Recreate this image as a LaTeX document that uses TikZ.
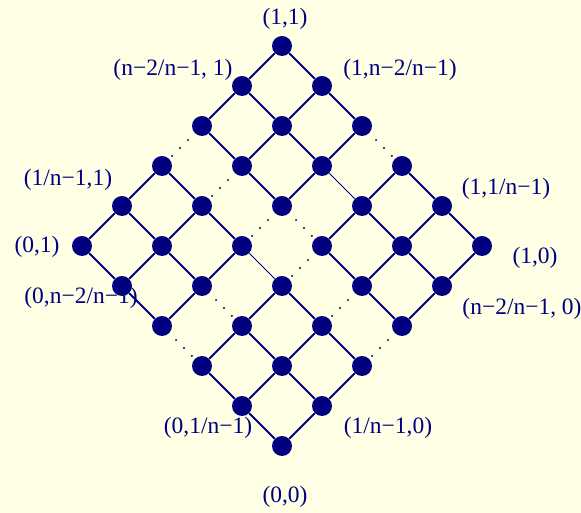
\documentclass[tikz,border=0pt]{standalone}
\usepackage{fontspec}
\setmainfont{Liberation Serif}
\definecolor{dotblue}{RGB}{0,0,128}
\definecolor{paper}{RGB}{255,255,230}

\begin{document}
\begin{tikzpicture}[
  dot/.style={circle, fill=dotblue, inner sep=0pt, minimum size=0.5cm},
  edge/.style={draw=dotblue, line width=1.4pt},
  gap/.style={draw=dotblue, line width=1.5pt, line cap=round, dash pattern=on 0pt off 0.28cm, shorten <=0.1cm, shorten >=0.1cm},
  thinedge/.style={draw=dotblue, line width=0.6pt},
  lbl/.style={text=dotblue, font=\fontsize{16.7}{20}\selectfont, inner sep=0pt}
]
\fill[paper] (-7.05,-1.675) rectangle (7.475,11.15);
\useasboundingbox (-7.05,-1.675) rectangle (7.475,11.15);

% lattice points
\foreach \i in {0,...,5}
  \foreach \j in {0,...,5}
    \node[dot] (p\i\j) at ({\i-\j},{\i+\j}) {};

% edges, the middle ones left open
\foreach \j in {0,...,5} {
  \foreach \i/\k in {0/1,1/2,3/4,4/5}
    \draw[edge] (p\i\j) -- (p\k\j);
  \draw[gap] (p2\j) -- (p3\j);
}
\foreach \i in {0,...,5} {
  \foreach \j/\k in {0/1,1/2,3/4,4/5}
    \draw[edge] (p\i\j) -- (p\i\k);
}
\foreach \i in {0,1,3,5}
  \draw[gap] (p\i2) -- (p\i3);
\foreach \i in {2,4}
  \draw[thinedge] (p\i2) -- (p\i3);

% corner labels
\node[lbl] (l55) at (0.075,10.675) {(1,1)};
\node[lbl] (l45) at (-2.725,9.4) {(n−2/n−1, 1)};
\node[lbl] (l54) at (2.95,9.4) {(1,n−2/n−1)};
\node[lbl] (l15) at (-5.35,6.65) {(1/n−1,1)};
\node[lbl] (l51) at (5.6,6.425) {(1,1/n−1)};
\node[lbl] (l05) at (-6.125,4.975) {(0,1)};
\node[lbl] (l50) at (6.325,4.7) {(1,0)};
\node[lbl] (l04) at (-5.025,3.7) {(0,n−2/n−1)};
\node[lbl] (l40) at (6.0,3.425) {(n−2/n−1, 0)};
\node[lbl] (l01) at (-1.85,0.45) {(0,1/n−1)};
\node[lbl] (l10) at (2.65,0.45) {(1/n−1,0)};
\node[lbl] (l00) at (0.075,-1.275) {(0,0)};
\end{tikzpicture}
\end{document}
